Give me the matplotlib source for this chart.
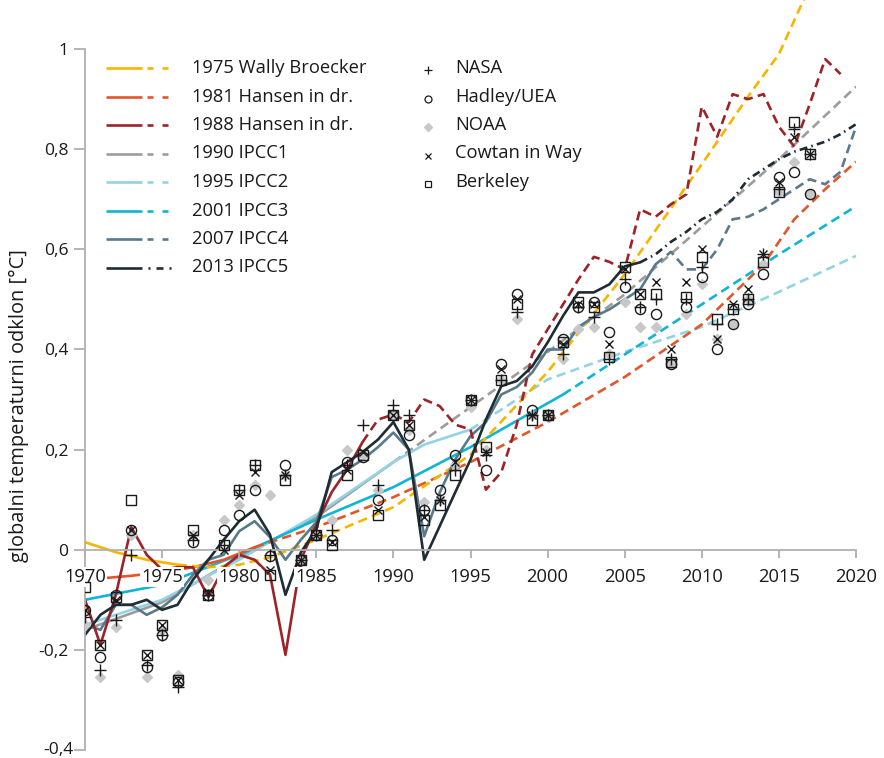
import matplotlib
matplotlib.use("Agg")
import matplotlib.pyplot as plt
from matplotlib.lines import Line2D

plt.rcParams['font.family'] = ['Open Sans', 'DejaVu Sans']

# ---------------- observations (annual anomalies, °C) ----------------
obs_years = list(range(1970, 2018))

nasa = [-0.135, -0.24, -0.14, -0.01, -0.23, -0.17, -0.275, 0.02, -0.09, 0.01,
        0.12, 0.17, -0.01, 0.15, -0.02, 0.03, 0.04, 0.17, 0.25, 0.13,
        0.29, 0.27, 0.08, 0.10, 0.16, 0.30, 0.19, 0.34, 0.475, 0.27,
        0.27, 0.39, 0.485, 0.465, 0.38, 0.54, 0.485, 0.50, 0.38, 0.50,
        0.565, 0.45, 0.48, 0.50, 0.59, 0.72, 0.84, 0.79]

hadley = [-0.12, -0.215, -0.09, 0.04, -0.235, -0.17, -0.265, 0.015, -0.09, 0.04,
          0.07, 0.12, -0.012, 0.17, -0.02, 0.03, 0.02, 0.175, 0.185, 0.10,
          0.27, 0.23, 0.08, 0.12, 0.19, 0.30, 0.16, 0.37, 0.51, 0.28,
          0.27, 0.42, 0.485, 0.495, 0.435, 0.525, 0.48, 0.47, 0.37, 0.485,
          0.545, 0.40, 0.45, 0.49, 0.55, 0.745, 0.755, 0.71]

noaa = [-0.15, -0.255, -0.155, 0.03, -0.255, -0.16, -0.25, 0.03, -0.06, 0.06,
        0.09, 0.13, 0.11, 0.15, -0.02, 0.03, 0.06, 0.20, 0.19, 0.12,
        0.27, 0.24, 0.095, 0.10, 0.17, 0.285, 0.20, 0.34, 0.46, 0.27,
        0.265, 0.38, 0.44, 0.445, 0.39, 0.495, 0.445, 0.445, 0.37, 0.47,
        0.53, 0.42, 0.45, 0.50, 0.57, 0.715, 0.775, 0.71]

cowtan = [-0.12, -0.19, -0.10, 0.04, -0.21, -0.15, -0.26, 0.03, -0.085, 0.0,
          0.11, 0.155, -0.04, 0.15, -0.02, 0.03, 0.015, 0.16, 0.195, 0.08,
          0.27, 0.25, 0.065, 0.10, 0.175, 0.30, 0.195, 0.36, 0.50, 0.27,
          0.27, 0.41, 0.49, 0.49, 0.41, 0.56, 0.51, 0.535, 0.40, 0.535,
          0.60, 0.42, 0.49, 0.52, 0.59, 0.735, 0.825, 0.79]

berkeley = [-0.075, -0.19, -0.095, 0.10, -0.21, -0.15, -0.26, 0.04, -0.09, 0.01,
            0.12, 0.17, -0.05, 0.14, -0.02, 0.03, 0.01, 0.15, 0.19, 0.07,
            0.27, 0.25, 0.06, 0.09, 0.15, 0.30, 0.205, 0.34, 0.49, 0.26,
            0.27, 0.415, 0.495, 0.485, 0.385, 0.565, 0.51, 0.51, 0.375, 0.505,
            0.585, 0.46, 0.48, 0.50, 0.575, 0.715, 0.855, 0.79]

# ---------------- model projections ----------------
broecker_years = [1970, 1972, 1974, 1976, 1978, 1980, 1982, 1985, 1990, 1995,
                  2000, 2005, 2010, 2013, 2015, 2017]
broecker_vals = [0.015, -0.005, -0.02, -0.03, -0.035, -0.03, -0.015, 0.02, 0.085, 0.19,
                 0.355, 0.55, 0.77, 0.905, 0.99, 1.125]

hansen81_years = [1970, 1973, 1975, 1977, 1979, 1981, 1985, 1990, 1995, 2000,
                  2005, 2010, 2014, 2016, 2018, 2020]
hansen81_vals = [-0.06, -0.052, -0.045, -0.035, -0.02, 0.005, 0.045, 0.105, 0.175, 0.255,
                 0.345, 0.45, 0.57, 0.66, 0.72, 0.775]

hansen88_years = list(range(1970, 2020))
hansen88_vals = [-0.10, -0.19, -0.09, 0.045, -0.01, -0.04, -0.035, -0.035, -0.095, -0.035,
                 -0.01, -0.02, -0.05, -0.21, -0.02, 0.05, 0.115, 0.16, 0.215, 0.26,
                 0.27, 0.255, 0.30, 0.287, 0.25, 0.24, 0.12, 0.155, 0.25, 0.39,
                 0.44, 0.49, 0.54, 0.585, 0.575, 0.56, 0.68, 0.665, 0.69, 0.71,
                 0.885, 0.825, 0.91, 0.90, 0.91, 0.845, 0.805, 0.89, 0.98, 0.95]

ipcc1_years = [1970, 1975, 1980, 1985, 1990, 1995, 2000, 2005, 2010, 2015, 2020]
ipcc1_vals = [-0.16, -0.105, -0.015, 0.065, 0.175, 0.285, 0.395, 0.51, 0.645, 0.78, 0.925]

ipcc2_years = [1970, 1975, 1980, 1985, 1990, 1992, 1995, 2000, 2005, 2010, 2015, 2020]
ipcc2_vals = [-0.15, -0.10, -0.02, 0.07, 0.175, 0.21, 0.24, 0.34, 0.395, 0.445, 0.515, 0.587]

ipcc3_years = [1970, 1975, 1980, 1985, 1990, 1995, 2001, 2005, 2010, 2015, 2020]
ipcc3_vals = [-0.10, -0.07, -0.01, 0.06, 0.125, 0.205, 0.31, 0.39, 0.49, 0.59, 0.686]

ipcc4_years = list(range(1970, 2021))
ipcc4_vals = [-0.15, -0.16, -0.11, -0.11, -0.13, -0.115, -0.09, -0.05, -0.02, -0.01,
              0.037, 0.057, 0.025, -0.02, 0.02, 0.055, 0.145, 0.16, 0.18, 0.205,
              0.234, 0.20, 0.027, 0.114, 0.18, 0.227, 0.255, 0.31, 0.325, 0.354,
              0.40, 0.40, 0.445, 0.465, 0.48, 0.50, 0.52, 0.57, 0.595, 0.56,
              0.56, 0.60, 0.66, 0.665, 0.68, 0.70, 0.72, 0.74, 0.73, 0.755,
              0.845]

ipcc5_years = list(range(1970, 2021))
ipcc5_vals = [-0.17, -0.13, -0.11, -0.11, -0.10, -0.12, -0.11, -0.06, -0.02, 0.02,
              0.057, 0.08, 0.03, -0.09, -0.005, 0.04, 0.155, 0.175, 0.195, 0.22,
              0.255, 0.20, -0.02, 0.047, 0.114, 0.18, 0.26, 0.327, 0.337, 0.366,
              0.414, 0.467, 0.514, 0.514, 0.53, 0.566, 0.574, 0.59, 0.615, 0.635,
              0.66, 0.675, 0.70, 0.74, 0.76, 0.78, 0.795, 0.805, 0.815, 0.83,
              0.85]

model_labels = ["1975 Wally Broecker", "1981 Hansen in dr.", "1988 Hansen in dr.",
                "1990 IPCC1", "1995 IPCC2", "2001 IPCC3", "2007 IPCC4", "2013 IPCC5"]
model_split = [1975, 1981, 1988, 1990, 1995, 2001, 2007, 2006]
model_colors = ["#f7b500", "#e2562c", "#9c2428", "#9c9c9c", "#93d3e4",
                "#12b4d4", "#587a8b", "#1e2c33"]

obs_labels = ["NASA", "Hadley/UEA", "NOAA", "Cowtan in Way", "Berkeley"]

y_ticks = [-0.4, -0.2, 0, 0.2, 0.4, 0.6, 0.8, 1.0]
y_ticklabels = ['-0,4', '-0,2', '0', '0,2', '0,4', '0,6', '0,8', '1']

# ---------------- figure ----------------
W, H = 884, 758
FS = 13.2
fig = plt.figure(figsize=(W / 100, H / 100), dpi=100)
ax = fig.add_axes([85 / W, 8 / H, 771 / W, 751 / H])
ax.set_xlim(1970, 2020)
ax.set_ylim(-0.4, 1.1)

LW = 1.9
DASH = (3.5, 2.0)
DASHDOT = [3.0, 1.6, 0.6, 1.6]

models = [
    (broecker_years, broecker_vals),
    (hansen81_years, hansen81_vals),
    (hansen88_years, hansen88_vals),
    (ipcc1_years, ipcc1_vals),
    (ipcc2_years, ipcc2_vals),
    (ipcc3_years, ipcc3_vals),
    (ipcc4_years, ipcc4_vals),
    (ipcc5_years, ipcc5_vals),
]

draw_order = [3, 4, 5, 1, 0, 6, 2, 7]
for i in draw_order:
    yrs, vals = models[i]
    split = model_split[i]
    hy = [y for y in yrs if y <= split]
    hv = [v for y, v in zip(yrs, vals) if y <= split]
    py = [y for y in yrs if y >= split]
    pv = [v for y, v in zip(yrs, vals) if y >= split]
    if hy and hy[-1] != split and py:
        # close the gap between solid and dashed part
        hy.append(py[0]); hv.append(pv[0])
    ax.plot(hy, hv, color=model_colors[i], lw=LW, solid_joinstyle='round',
            solid_capstyle='round', zorder=2)
    dashes = DASHDOT if i == 7 else DASH
    ax.plot(py, pv, color=model_colors[i], lw=LW, dashes=dashes,
            dash_capstyle='butt', zorder=2)

# observations
ax.plot(obs_years, noaa, ls='none', marker='D', ms=4.8, mfc='#c8c8c8', mec='#c8c8c8', zorder=3)
ax.plot(obs_years, nasa, ls='none', marker='+', ms=8, mew=1.0, color='#1a1a1a', zorder=4)
ax.plot(obs_years, hadley, ls='none', marker='o', ms=7.3, mew=1.0, mfc='none', mec='#1a1a1a', zorder=4)
ax.plot(obs_years, cowtan, ls='none', marker='x', ms=5.5, mew=1.0, color='#1a1a1a', zorder=4)
ax.plot(obs_years, berkeley, ls='none', marker='s', ms=7.4, mew=1.0, mfc='none', mec='#1a1a1a', zorder=4)

# ---------------- axes styling ----------------
axis_grey = '#b0b0b0'
for s in ['top', 'right']:
    ax.spines[s].set_visible(False)
ax.spines['bottom'].set_position(('data', 0))
ax.spines['bottom'].set_bounds(1970, 2020)
ax.spines['left'].set_bounds(-0.4, 1.0)
for s in ['bottom', 'left']:
    ax.spines[s].set_color(axis_grey)
    ax.spines[s].set_linewidth(1.3)

ax.set_xticks(range(1970, 2021, 5))
ax.set_yticks(y_ticks)
# the lowest label sits on the figure edge, so it is placed separately a touch higher
ax.set_yticklabels([''] + y_ticklabels[1:])
ax.tick_params(axis='both', colors=axis_grey, labelcolor='#1a1a1a', width=1.3)
ax.tick_params(axis='x', length=6, pad=7, labelsize=FS)
ax.tick_params(axis='y', length=8, pad=4, labelsize=12.6)
ax.set_axisbelow(False)
for lab in ax.get_xticklabels():
    lab.set_bbox(dict(facecolor='white', edgecolor='none', pad=0.6))

fig.text(73 / W, 1 - 748 / H, y_ticklabels[0], fontsize=12.6, color='#1a1a1a',
         ha='right', va='center_baseline')

ax.set_ylabel('globalni temperaturni odklon [°C]', fontsize=14.4, color='#1a1a1a')
ax.yaxis.set_label_coords(-0.072, 0.458)


# ---------------- legend (figure pixel positions) ----------------
def fx(px):
    return px / W


def fy(py):
    return 1 - py / H


def seg(x0, x1, y, color, **kw):
    fig.add_artist(Line2D([fx(x0), fx(x1)], [fy(y), fy(y)], color=color,
                          lw=LW, transform=fig.transFigure, **kw))


row_y = [68, 96.5, 125, 153.5, 182, 210.5, 239, 267.5]
for i, (lab, col) in enumerate(zip(model_labels, model_colors)):
    y = row_y[i]
    seg(106, 142, y, col, solid_capstyle='butt')
    if i == 7:
        seg(148, 150, y, col, solid_capstyle='butt')
        seg(156, 163, y, col, solid_capstyle='butt')
        seg(169, 171, y, col, solid_capstyle='butt')
    else:
        seg(147, 153, y, col, solid_capstyle='butt')
        seg(162, 168, y, col, solid_capstyle='butt')
    fig.text(fx(192), fy(y), lab, fontsize=FS, color='#1a1a1a', va='center', ha='left')

obs_row_y = [68, 96.5, 125, 153.5, 182]
obs_styles = [
    dict(marker='+', ms=5.5, mew=0.9, color='#1a1a1a'),
    dict(marker='o', ms=5.0, mew=0.9, mfc='none', mec='#1a1a1a'),
    dict(marker='D', ms=3.6, mfc='#c8c8c8', mec='#c8c8c8'),
    dict(marker='x', ms=4.2, mew=0.9, color='#1a1a1a'),
    dict(marker='s', ms=5.0, mew=0.9, mfc='none', mec='#1a1a1a'),
]
for lab, y, st in zip(obs_labels, obs_row_y, obs_styles):
    fig.add_artist(Line2D([fx(428)], [fy(y + 2)], ls='none', transform=fig.transFigure, **st))
    fig.text(fx(455), fy(y), lab, fontsize=FS, color='#1a1a1a', va='center', ha='left')

fig.savefig('out.png', dpi=100)
